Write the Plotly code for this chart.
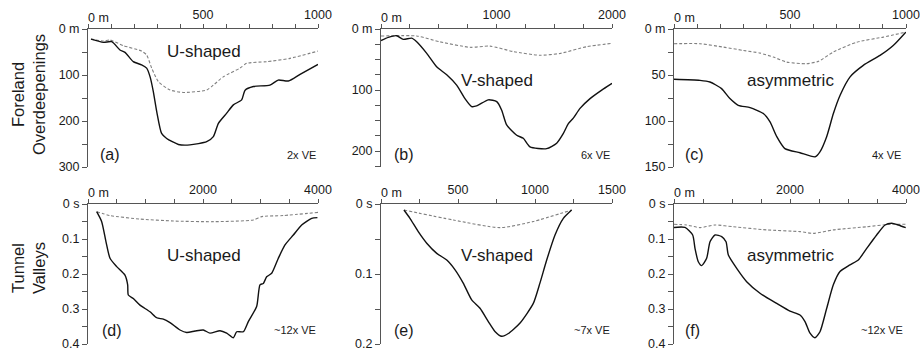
import plotly.graph_objects as go

# ---------------- data ----------------
# (a) Foreland overdeepening, U-shaped (distance m, depth m)
a_solid_x = [13, 67, 103, 139, 161, 197, 233, 255, 270, 284, 299, 320, 342, 393, 443, 516, 545, 567, 603, 632, 668, 683, 719, 791, 827, 871, 922, 1000]
a_solid_d = [22, 29, 27.5, 45.6, 50.7, 71, 78, 85, 104, 136, 180, 227, 238, 251, 252, 245, 234, 205, 183, 165, 154, 133, 125, 122, 111, 113, 98.5, 77]
a_dash_x = [13, 67, 96, 153, 233, 255, 277, 306, 357, 414, 516, 545, 588, 661, 690, 777, 878, 1000]
a_dash_d = [22, 26, 24, 36, 48, 56.5, 85, 114.5, 132.6, 138, 132.6, 122, 104, 85, 74.6, 71, 63.8, 48]

# (b) Foreland overdeepening, V-shaped
b_solid_x = [0, 63, 136, 193, 266, 309, 396, 482, 569, 655, 727, 785, 828, 929, 1002, 1045, 1088, 1175, 1232, 1290, 1434, 1521, 1579, 1622, 1665, 1723, 1810, 1911, 2000]
b_solid_d = [19, 13.7, 11, 17, 15, 21, 40, 62, 75, 92, 114, 127, 126, 116, 119, 133, 157, 174, 179, 193, 196, 187, 171, 155, 146, 130, 114, 100, 89]
b_dash_x = [0, 309, 511, 771, 944, 1146, 1377, 1550, 1781, 2000]
b_dash_d = [11.5, 11.5, 21, 30, 28, 37, 43, 40, 29, 23.5]

# (c) Foreland overdeepening, asymmetric
c_solid_x = [0, 112, 155, 205, 241, 277, 328, 385, 414, 443, 478, 543, 608, 629, 658, 687, 716, 759, 816, 888, 945, 999]
c_solid_d = [54.7, 55.8, 57.6, 64.8, 75.6, 82.9, 85.4, 91.9, 101, 117, 130, 134.5, 138.9, 133.5, 117, 91.9, 72, 52, 39.5, 28.7, 17.9, 3.4]
c_dash_x = [0, 112, 213, 299, 371, 428, 486, 572, 622, 687, 788, 902, 999]
c_dash_d = [16, 16, 19.7, 23.3, 26.2, 30.5, 36, 37.7, 35.2, 25, 14.3, 8.8, 3.4]

# (d) Tunnel valley, U-shaped (distance m, two-way time s)
d_solid_x = [151, 238, 313, 383, 499, 643, 690, 701, 788, 904, 1078, 1195, 1310, 1426, 1600, 1717, 1861, 2005, 2122, 2296, 2412, 2528, 2586, 2701, 2788, 2933, 2991, 3049, 3107, 3194, 3310, 3426, 3571, 3716, 3890, 3990]
d_solid_t = [0.022, 0.0505, 0.108, 0.155, 0.179, 0.203, 0.231, 0.26, 0.27, 0.289, 0.308, 0.325, 0.329, 0.339, 0.36, 0.367, 0.363, 0.36, 0.369, 0.362, 0.369, 0.382, 0.365, 0.365, 0.336, 0.293, 0.231, 0.227, 0.208, 0.198, 0.155, 0.117, 0.0886, 0.06, 0.041, 0.039]
d_dash_x = [151, 383, 904, 1484, 2179, 2875, 3020, 3397, 4000]
d_dash_t = [0.022, 0.033, 0.043, 0.0486, 0.0505, 0.0457, 0.036, 0.033, 0.024]

# (e) Tunnel valley, V-shaped
e_solid_x = [149, 188, 242, 297, 362, 427, 481, 534, 589, 643, 697, 740, 784, 827, 903, 989, 1032, 1076, 1130, 1184, 1238]
e_solid_t = [0.0086, 0.0205, 0.0395, 0.056, 0.0705, 0.08, 0.094, 0.113, 0.137, 0.149, 0.168, 0.182, 0.189, 0.185, 0.170, 0.142, 0.113, 0.08, 0.0443, 0.0205, 0.0086]
e_dash_x = [149, 470, 773, 989, 1238]
e_dash_t = [0.0086, 0.0229, 0.0338, 0.025, 0.0086]

# (f) Tunnel valley, asymmetric
f_solid_x = [0, 190, 322, 362, 419, 477, 563, 621, 707, 822, 897, 937, 1081, 1253, 1483, 1771, 2000, 2172, 2259, 2345, 2431, 2517, 2633, 2747, 2862, 3034, 3178, 3322, 3494, 3638, 3753, 3868, 3995]
f_solid_t = [0.067, 0.067, 0.0886, 0.127, 0.165, 0.176, 0.155, 0.108, 0.0886, 0.093, 0.108, 0.146, 0.184, 0.222, 0.255, 0.284, 0.306, 0.317, 0.336, 0.369, 0.382, 0.365, 0.298, 0.231, 0.193, 0.174, 0.16, 0.127, 0.0886, 0.06, 0.055, 0.06, 0.0676]
f_dash_x = [0, 218, 448, 707, 1022, 1598, 2172, 2402, 2747, 3322, 3724, 3995]
f_dash_t = [0.058, 0.06, 0.0676, 0.06, 0.065, 0.074, 0.079, 0.084, 0.074, 0.065, 0.058, 0.058]

shape_labels = ["U-shaped", "V-shaped", "asymmetric", "U-shaped", "V-shaped", "asymmetric"]
panel_letters = ["(a)", "(b)", "(c)", "(d)", "(e)", "(f)"]
ve_labels = ["2x VE", "6x VE", "4x VE", "~12x VE", "~7x VE", "~12x VE"]
row_labels = ["Foreland<br>Overdeepenings", "Tunnel<br>Valleys"]

x_max = [1000, 2000, 1000, 4000, 1500, 4000]
x_tick_step = [100, 250, 100, 500, 250, 500]
x_labelled = [[500, 1000], [1000, 2000], [500, 1000], [2000, 4000], [500, 1000, 1500], [2000, 4000]]
y_max = [300, 226, 150, 0.4, 0.2, 0.4]
y_tick_step = [50, 25, 25, 0.05, 0.05, 0.05]
y_labelled = [[100, 200, 300], [100, 200], [50, 100, 150], [0.1, 0.2, 0.3, 0.4], [0.1, 0.2], [0.1, 0.2, 0.3, 0.4]]
y_zero_unit = ["0 m", "0 m", "0 m", "0 s", "0 s", "0 s"]
label_pos = [(504, 50), (1004, 84), (503, 56), (2012, 0.146), (755, 0.073), (2012, 0.146)]

# ---------------- layout geometry ----------------
W, H = 920, 351
col_px = [(88, 318), (381, 612), (674, 906)]
row_px = [(29, 167), (204, 344)]
letter_x = [0.043, 0.046, 0.039, 0.052, 0.046, 0.039]
ve_x = [1.0, 1.0, 0.987, 1.0, 1.0, 0.996]

FONT = "Liberation Sans, Arial, sans-serif"
TXT = "#1a1a1a"
AX = "#555555"

series = [
    (a_solid_x, a_solid_d, a_dash_x, a_dash_d),
    (b_solid_x, b_solid_d, b_dash_x, b_dash_d),
    (c_solid_x, c_solid_d, c_dash_x, c_dash_d),
    (d_solid_x, d_solid_t, d_dash_x, d_dash_t),
    (e_solid_x, e_solid_t, e_dash_x, e_dash_t),
    (f_solid_x, f_solid_t, f_dash_x, f_dash_t),
]

def fmt(v):
    return f"{v:.2f}".rstrip("0").rstrip(".")

fig = go.Figure()
layout = dict(
    width=W, height=H,
    margin=dict(l=0, r=0, t=0, b=0, pad=0, autoexpand=False),
    paper_bgcolor="white", plot_bgcolor="white",
    showlegend=False,
    font=dict(family=FONT, color=TXT, size=12.5),
)
annotations = []

for i in range(6):
    r, c = divmod(i, 3)
    n = i + 1
    xs, ys, xd, yd = series[i]
    xa = f"x{n}" if n > 1 else "x"
    ya = f"y{n}" if n > 1 else "y"
    fig.add_trace(go.Scatter(x=xd, y=yd, xaxis=xa, yaxis=ya, mode="lines",
                             line=dict(color="#808080", width=1.1, dash="3px,2px", shape="spline", smoothing=0.6),
                             hoverinfo="skip"))
    fig.add_trace(go.Scatter(x=xs, y=ys, xaxis=xa, yaxis=ya, mode="lines",
                             line=dict(color="#111111", width=1.4, shape="spline", smoothing=0.6),
                             hoverinfo="skip"))
    x0p, x1p = col_px[c]
    y0p, y1p = row_px[r]
    xdom = [x0p / W, x1p / W]
    ydom = [1 - y1p / H, 1 - y0p / H]

    nx = int(round(x_max[i] / x_tick_step[i]))
    xtv = [k * x_tick_step[i] for k in range(nx + 1)]
    xtt = [fmt(v) if v in x_labelled[i] else "" for v in xtv]
    ny = int(round((y_max[i] if i != 1 else 225) / y_tick_step[i]))
    ytv = [round(k * y_tick_step[i], 4) for k in range(ny + 1)]
    ytt = []
    for v in ytv:
        if v == 0:
            ytt.append(y_zero_unit[i])
        elif any(abs(v - L) < 1e-9 for L in y_labelled[i]):
            ytt.append(fmt(v))
        else:
            ytt.append("")

    layout["xaxis" + (str(n) if n > 1 else "")] = dict(
        domain=xdom, anchor=ya, side="top", range=[0, x_max[i]],
        showgrid=False, zeroline=False, showline=True, linecolor=AX, linewidth=1,
        ticks="outside", ticklen=4, tickcolor=AX, tickwidth=1,
        tickmode="array", tickvals=xtv, ticktext=xtt, ticklabeloverflow="allow",
        tickfont=dict(family=FONT, size=12.5, color=TXT),
    )
    layout["yaxis" + (str(n) if n > 1 else "")] = dict(
        domain=ydom, anchor=xa, range=[y_max[i], 0],
        showgrid=False, zeroline=False, showline=True, linecolor=AX, linewidth=1,
        ticks="outside", ticklen=5, tickcolor=AX, tickwidth=1,
        tickmode="array", tickvals=ytv, ticktext=ytt, ticklabeloverflow="allow",
        tickfont=dict(family=FONT, size=12.5, color=TXT),
    )
    xdref = f"{xa} domain"
    ydref = f"{ya} domain"
    annotations.append(dict(text="0 m", xref=xdref, yref=ydref, x=0, y=1, xanchor="left", yanchor="bottom",
                            xshift=-2, yshift=2, showarrow=False, font=dict(family=FONT, size=12.5, color=TXT)))
    lx, ly = label_pos[i]
    annotations.append(dict(text=shape_labels[i], xref=xa, yref=ya, x=lx, y=ly, xanchor="center", yanchor="middle",
                            showarrow=False, font=dict(family=FONT, size=17, color=TXT)))
    ly_dom = 0.087 if r == 0 else 0.1
    annotations.append(dict(text=panel_letters[i], xref=xdref, yref=ydref, x=letter_x[i], y=ly_dom,
                            xanchor="left", yanchor="middle", showarrow=False,
                            font=dict(family=FONT, size=16, color=TXT)))
    annotations.append(dict(text=ve_labels[i], xref=xdref, yref=ydref, x=ve_x[i], y=ly_dom,
                            xanchor="right", yanchor="middle", showarrow=False,
                            font=dict(family=FONT, size=11, color=TXT)))

for r, txt in enumerate(row_labels):
    cy = 95 if r == 0 else 268
    annotations.append(dict(text=txt, xref="paper", yref="paper", x=28 / W, y=1 - cy / H,
                            xanchor="center", yanchor="middle", textangle=-90, showarrow=False,
                            font=dict(family=FONT, size=16.5, color=TXT)))

layout["annotations"] = annotations
fig.update_layout(**layout)
fig.write_html("out.html",
               config={"displayModeBar": False, "staticPlot": True},
               post_script="document.body.style.margin='0';document.body.style.overflow='hidden';")
